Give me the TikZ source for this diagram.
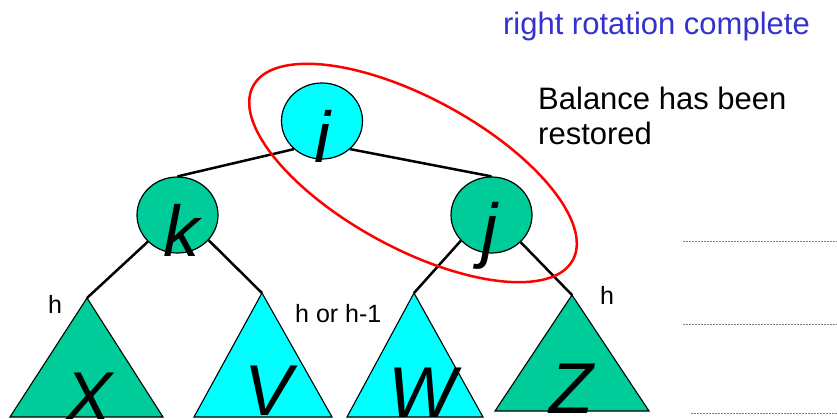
\documentclass[tikz,border=0pt]{standalone}
\usepackage{fontspec}
\setmainfont{Liberation Sans}
\usepackage{xcolor}
\usepackage{tikz}
\usetikzlibrary{shapes.geometric}
\definecolor{Cg}{RGB}{0,204,153}
\definecolor{Cc}{RGB}{0,255,255}
\definecolor{Cb}{RGB}{51,51,204}
\definecolor{Cr}{RGB}{255,0,0}

\begin{document}
\begin{tikzpicture}[x=1pt,y=-1pt,
    treenode/.style={ellipse,draw,line width=1.2pt,minimum width=81,minimum height=76,inner sep=0},
    letter/.style={font=\fontsize{72}{72}\selectfont\itshape,anchor=base,inner sep=0},
    branch/.style={line width=2.5pt},
    subtree/.style={draw,line width=1.1pt},
    hlabel/.style={font=\fontsize{25}{25}\selectfont,anchor=base west,inner sep=0},
    guide/.style={gray,line width=0.8pt,dash pattern=on 2pt off 1pt}]
    \useasboundingbox (0,0) rectangle (837,419);
    % subtrees
    \coordinate (xtop) at (87,298);
    \coordinate (vtop) at (262,293);
    \coordinate (wtop) at (414,293);
    \coordinate (ztop) at (572,295);
    \draw[subtree,fill=Cg] (xtop) -- (10,417) -- (163,417) -- cycle;
    \draw[subtree,fill=Cc] (vtop) -- (194,417) -- (332,417) -- cycle;
    \draw[subtree,fill=Cc] (wtop) -- (347,417) -- (483,417) -- cycle;
    \draw[subtree,fill=Cg] (ztop) -- (495,411) -- (649,411) -- cycle;
    \node[letter] (X) at (89,422) {X};
    \node[letter] (V) at (269,415) {V};
    \node[letter] (W) at (422,417) {W};
    \node[letter] (Z) at (571,413) {Z};
    % tree nodes
    \node[treenode,fill=Cc] (i) at (322,121) {};
    \node[treenode,fill=Cg] (k) at (177.5,215) {};
    \node[treenode,fill=Cg] (j) at (491.5,215) {};
    \draw[branch] (i.225) -- (k.north);
    \draw[branch] (i.-45) -- (j.north);
    \draw[branch] (k.222) -- (xtop);
    \draw[branch] (k.321) -- (vtop);
    \draw[branch] (j.220) -- (wtop);
    \draw[branch] (j.317) -- (ztop);
    \node[letter] (il) at (322,163) {i};
    \node[letter] (kl) at (181,257) {k};
    \node[letter] (jl) at (489,255) {j};
    \node[ellipse,draw=Cr,line width=2.5pt,minimum width=364,minimum height=150,rotate=-28.6] (ring) at (413,173) {};
    % heights
    \node[hlabel] (hx) at (48,313) {h};
    \node[hlabel] (hv) at (295,322) {h or h-1};
    \node[hlabel] (hz) at (600,305) {h};
    % captions
    \node[font=\fontsize{31}{35}\selectfont,Cb,anchor=base east,inner sep=0] (title) at (810,35) {right rotation complete};
    \node[font=\fontsize{31}{35}\selectfont,align=left,anchor=north west,inner sep=0] (note) at (538,87) {Balance has been\\restored};
    \draw[guide] (683,241) -- (837,241);
    \draw[guide] (683,324) -- (837,324);
    \draw[guide] (691,413) -- (837,413);
\end{tikzpicture}
\end{document}
